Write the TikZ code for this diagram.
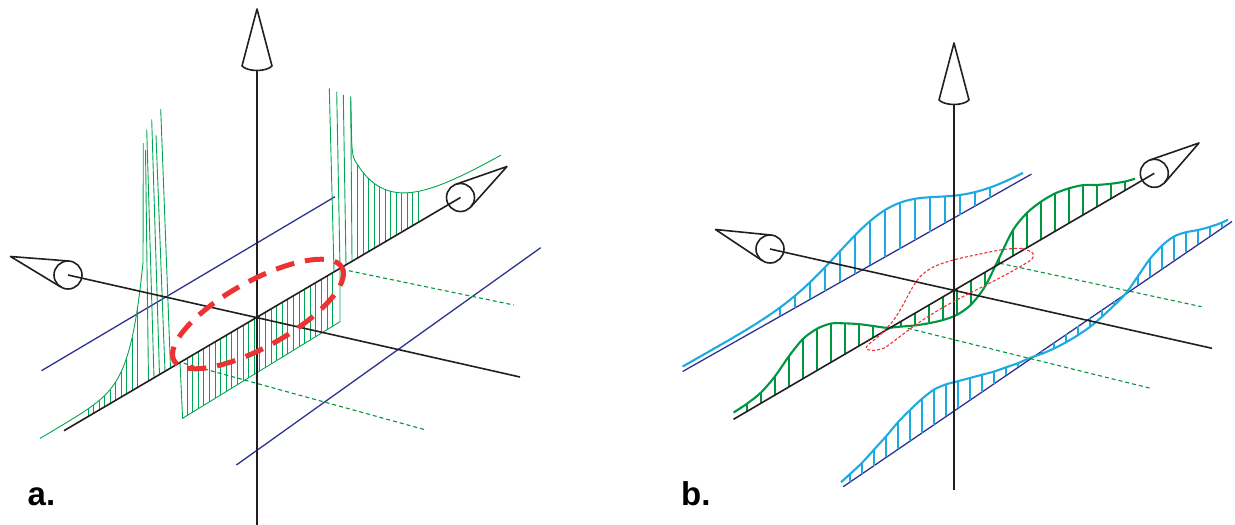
\documentclass[tikz,border=0pt]{standalone}
\usepackage{fontspec}
\setmainfont{Liberation Sans}
\usetikzlibrary{calc}
\definecolor{axisk}{RGB}{35,31,32}
\definecolor{navy}{RGB}{45,50,145}
\definecolor{ga}{RGB}{0,166,81}
\definecolor{gb}{RGB}{0,150,64}
\definecolor{cy}{RGB}{30,170,225}
\definecolor{rd}{RGB}{236,50,50}
\newcommand\drawcone[3]{%
  \node[circle,draw=axisk,line width=1.6pt,minimum size=28pt,inner sep=0pt,outer sep=0pt] (#1c) at (#3) {};
  \coordinate (#1t) at (#2);
  \draw[conel] (tangent cs:node=#1c,point={(#1t)},solution=1) -- (#1t) -- (tangent cs:node=#1c,point={(#1t)},solution=2);
}
\newcommand\drawvcone[4]{%
  \coordinate (#1t) at (#2,#3);
  \coordinate (#1b) at (#2,#4+4.5);
  \draw[conel] (#1t) -- (#2-15,#4) .. controls (#2-9,#4+6) and (#2+9,#4+6) .. (#2+15,#4) -- cycle;
}
\begin{document}
\begin{tikzpicture}[x=1pt,y=-1pt,
  axisln/.style={draw=axisk,line width=1.6pt},
  conel/.style={draw=axisk,line width=1.6pt,line join=round},
  navyln/.style={draw=navy,line width=1.3pt},
  gha/.style={draw=ga,line width=0.9pt},
  gdash/.style={draw=gb,line width=1.1pt,dash pattern=on 4pt off 3pt},
  redbig/.style={draw=rd,line width=5pt,dash pattern=on 19pt off 11pt},
  redsmall/.style={draw=rd,line width=1.1pt,dash pattern=on 3pt off 2pt},
  ghb/.style={draw=gb,line width=1.6pt},
  ghbc/.style={draw=gb,line width=2.1pt},
  cyb/.style={draw=cy,line width=1.6pt},
  cybc/.style={draw=cy,line width=2.1pt},
  lab/.style={font=\bfseries\fontsize{33}{33}\selectfont,inner sep=0pt,anchor=base west}
]
\useasboundingbox (0,0) rectangle (1235,525);

% ================= panel a =================
\draw[navyln] (41.5,370.7) -- (335,196.7);
\draw[navyln] (236.4,465) -- (540.7,247.7);

% left resonance
\draw[gha] plot[domain=40:143,samples=80] (\x,{317-0.592*(\x-257)-7-115*exp((\x-143)/12)}) -- (143.3,143.3);
\foreach \x in {88,93.5,...,138}
  \draw[gha] (\x,{317-0.592*(\x-257)}) -- (\x,{317-0.592*(\x-257)-7-115*exp((\x-143)/12)});
\foreach \bx/\tx/\ty in {148.5/145.5/150,154/146.7/129.3,159.5/151.7/119.3,165/156/135,170.5/160.7/109}
  \draw[gha] (\bx,{317-0.592*(\bx-257)}) -- (\tx,\ty);

% negative band
\draw[gha] (180,{317-0.592*(180-257)}) -- (182.6,418.3) -- (340,321.7) -- (340,{317-0.592*(340-257)});
\foreach \x in {187,192.6,...,336}
  \draw[gha] (\x,{317-0.592*(\x-257)}) -- (\x,{418.3-0.6137*(\x-182.6)});

% right resonance
\foreach \tx/\ty/\bx in {329.3/88.3/334,336.7/91.7/340,343.3/95/346,350.7/96.7/352}
  \draw[gha] (\tx,\ty) -- (\bx,{317-0.592*(\bx-257)});
\draw[gha] (350.7,96.7) -- (351.6,138) .. controls (351.8,147) and (352.5,156) .. (354.5,159.8)
  -- plot[domain=354.5:501,samples=60] (\x,{317-0.592*(\x-257)-16-87*exp(-(\x-353)/36)});
\foreach \x in {357.5,363,...,422}
  \draw[gha] (\x,{317-0.592*(\x-257)}) -- (\x,{317-0.592*(\x-257)-16-87*exp(-(\x-353)/36)});

\draw[gdash] (341.9,269.3) -- (513.8,305);
\draw[gdash] (183.8,363.3) -- (426,430);

% axes a
\drawvcone{av}{257}{9}{66}
\draw[axisln] (avb) -- (257,525);
\drawcone{al}{10.5,256.5}{68,275}
\drawcone{ar}{507,166.5}{460.5,197.5}
\coordinate (aend1) at (520,377);
\coordinate (aend2) at (64,430.7);
\draw[axisln] (alc.center) -- (aend1);
\draw[axisln] (aend2) -- (arc.center);

\draw[redbig,rotate around={29:(258,314)}] (258,314) ellipse [x radius=96, y radius=33];

\node[lab] (labela) at (27.5,505) {a.};

% ================= panel b =================
\draw[navyln] (682.6,371.5) -- (1031.5,174.1);
\draw[navyln] (843.2,486.7) -- (1232,221.5);

% upper-left cyan
\draw[cybc] plot[domain=682.6:1023,samples=100] (\x,{361.7-0.566*(\x-700)-5-42*exp(-((\x-888)/70)*((\x-888)/70))});
\foreach \x in {780,795,...,990}
  \draw[cyb] (\x,{361.7-0.566*(\x-700)}) -- (\x,{361.7-0.566*(\x-700)-5-42*exp(-((\x-888)/70)*((\x-888)/70))});

% lower-right cyan
\xdef\ptsC{(841,{486.7-0.684*(841-843.2)-6})}
\foreach \x/\h in {850/8,862/11,874/16,886/21,898/27,910/31,922/34,934/35,946/32,958/27,970/22,982/17,994/12,1006/8,1018/4,1030/1,1042/-3,1054/-6,1066/-8,1078/-9,1090/-9,1102/-7,1114/-4,1126/0,1138/9,1150/18,1162/23,1174/24,1186/20,1198/14,1210/9,1222/5}{%
  \pgfmathsetmacro\yb{486.7-0.684*(\x-843.2)}%
  \pgfmathsetmacro\yc{\yb-\h}%
  \xdef\ptsC{\ptsC (\x,\yc)}%
  \pgfmathtruncatemacro\ok{abs(\h)>2.5}%
  \ifnum\ok=1 \draw[cyb] (\x,\yb) -- (\x,\yc);\fi
}
\xdef\ptsC{\ptsC (1228,{486.7-0.684*(1228-843.2)-4})}
\edef\tmp{\noexpand\draw[cybc] plot[smooth] coordinates {\ptsC};}\tmp

% middle green
\xdef\ptsG{(733.5,{290-0.585*(733.5-955)-7})}
\foreach \x/\h in {747/8,761/11,775/19,789/31,803/40,817/42,831/39,845/31,859/22,873/12,887/2,901/-5,915/-12,929/-18,943/-23,957/-26,971/-24,985/-14,999/6,1013/26,1027/35,1041/38,1055/38,1069/35,1083/30,1097/22,1111/15,1125/9}{%
  \pgfmathsetmacro\yb{290-0.585*(\x-955)}%
  \pgfmathsetmacro\yc{\yb-\h}%
  \xdef\ptsG{\ptsG (\x,\yc)}%
  \pgfmathtruncatemacro\ok{abs(\h)>2.5}%
  \ifnum\ok=1 \draw[ghb] (\x,\yb) -- (\x,\yc);\fi
}
\xdef\ptsG{\ptsG (1135,{290-0.585*(1135-955)-6})}
\edef\tmp{\noexpand\draw[ghbc] plot[smooth] coordinates {\ptsG};}\tmp

\draw[gdash] (999.8,263.3) -- (1201.5,306.7);
\draw[gdash] (907.8,328.3) -- (1150.6,388.3);

% axes b
\drawvcone{bv}{954}{43}{100}
\draw[axisln] (bvb) -- (954,490);
\drawcone{bl}{715.5,229.5}{770,249}
\drawcone{br}{1199,143}{1154.3,173.3}
\coordinate (bend1) at (1212,348.3);
\coordinate (bend2) at (733.5,419.3);
\draw[axisln] (blc.center) -- (bend1);
\draw[axisln] (bend2) -- (brc.center);

\draw[redsmall] plot[smooth cycle] coordinates {(1033,253.3) (1022,248.5) (1005,249.3) (983.3,253.3) (953.3,260) (933.3,267) (920,276.7) (911,290) (903,305) (893,321) (880,335) (869,344) (866,348.5) (872,350.5) (884,348) (898,338) (914,326) (932,314) (950,303.5) (970,293) (990,283) (1008,273.5) (1023,265) (1032,259)};

\node[lab] (labelb) at (681,505) {b.};
\end{tikzpicture}
\end{document}
